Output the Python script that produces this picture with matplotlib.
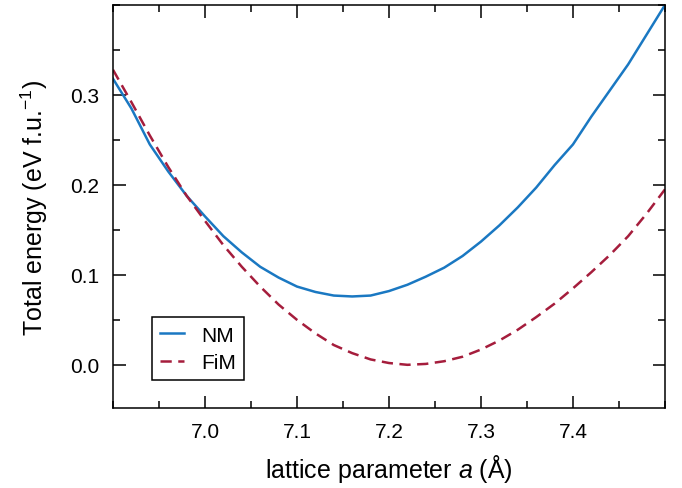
import matplotlib
matplotlib.use("Agg")
import matplotlib.pyplot as plt
from matplotlib.ticker import MultipleLocator

plt.rcParams['font.family'] = ['Liberation Sans', 'DejaVu Sans']
plt.rcParams['mathtext.fontset'] = 'custom'
plt.rcParams['mathtext.rm'] = 'Liberation Sans'
plt.rcParams['mathtext.it'] = 'Liberation Sans:italic'
plt.rcParams['xtick.labelsize'] = 15
plt.rcParams['ytick.labelsize'] = 15

# lattice parameter (Å)
a = [6.90, 6.92, 6.94, 6.96, 6.98, 7.00, 7.02, 7.04, 7.06, 7.08, 7.10,
     7.12, 7.14, 7.16, 7.18, 7.20, 7.22, 7.24, 7.26, 7.28, 7.30, 7.32,
     7.34, 7.36, 7.38, 7.40, 7.42, 7.44, 7.46, 7.48, 7.50]

# total energy (eV / f.u.)
e_nm = [0.318, 0.285, 0.245, 0.215, 0.188, 0.165, 0.143, 0.125, 0.109, 0.097, 0.087,
        0.081, 0.077, 0.076, 0.077, 0.082, 0.089, 0.098, 0.108, 0.121, 0.137, 0.155,
        0.175, 0.197, 0.222, 0.245, 0.276, 0.305, 0.334, 0.367, 0.400]
e_fim = [0.328, 0.292, 0.255, 0.220, 0.188, 0.160, 0.133, 0.109, 0.087, 0.067, 0.050,
         0.035, 0.022, 0.013, 0.006, 0.002, 0.000, 0.001, 0.004, 0.009, 0.017, 0.027,
         0.039, 0.053, 0.068, 0.085, 0.103, 0.122, 0.143, 0.168, 0.195]

xticks = [7.0, 7.1, 7.2, 7.3, 7.4]
yticks = [0.0, 0.1, 0.2, 0.3]

fig = plt.figure(figsize=(6.82, 4.89), dpi=100)
ax = fig.add_axes([0.1657, 0.1636, 0.8093, 0.8241])

ax.plot(a, e_nm, color='#1a78c2', lw=1.8, label='NM')
ax.plot(a, e_fim, color='#a51d3c', lw=1.8, ls=(0, (4.5, 2.6)), label='FiM')

ax.set_xlim(6.9, 7.5)
ax.set_ylim(-0.048, 0.4)
ax.set_xticks(xticks)
ax.set_xticklabels(['%.1f' % t for t in xticks], fontsize=15)
ax.set_yticks(yticks)
ax.set_yticklabels(['%.1f' % t for t in yticks], fontsize=15)
ax.xaxis.set_minor_locator(MultipleLocator(0.05))
ax.yaxis.set_minor_locator(MultipleLocator(0.05))
ax.tick_params(which='both', direction='in', top=True, right=True, width=1.1, pad=10)
ax.tick_params(which='major', length=9)
ax.tick_params(which='minor', length=5)
for s in ax.spines.values():
    s.set_linewidth(1.1)

ax.set_xlabel('lattice parameter $a$ (Å)', fontsize=18, labelpad=8)
ax.set_ylabel('Total energy (eV f.u.$^{-1}$)', fontsize=18, labelpad=14)

leg = ax.legend(loc='lower left', bbox_to_anchor=(0.0707, 0.069), borderaxespad=0,
                fontsize=15, fancybox=False, edgecolor='black', framealpha=1,
                handlelength=1.15, handletextpad=0.8, borderpad=0.4, labelspacing=0.4)
leg.get_frame().set_linewidth(1.1)

fig.savefig('out.png', dpi=100)
